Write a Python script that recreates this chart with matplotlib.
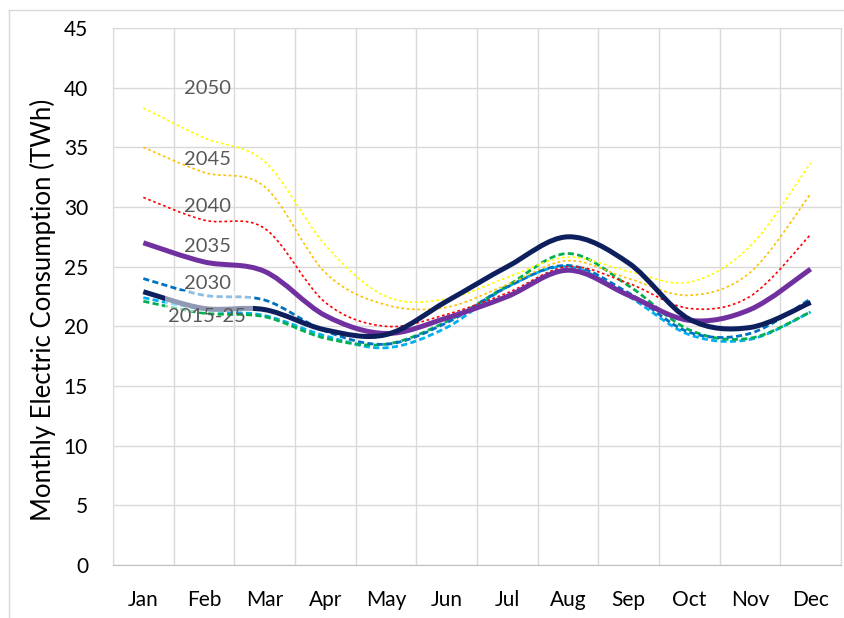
import numpy as np
import matplotlib.pyplot as plt
from matplotlib.path import Path
from matplotlib.patches import PathPatch, Rectangle
from matplotlib.lines import Line2D

plt.rcParams['font.family'] = ['Lato', 'DejaVu Sans']

months = ['Jan', 'Feb', 'Mar', 'Apr', 'May', 'Jun',
          'Jul', 'Aug', 'Sep', 'Oct', 'Nov', 'Dec']

# monthly consumption (TWh)
y2015 = [22.4, 21.4, 20.9, 19.2, 18.2, 19.9, 23.3, 25.0, 22.5, 19.3, 18.9, 21.2]
y2025 = [22.1, 21.1, 20.8, 19.0, 18.5, 20.4, 23.4, 26.1, 23.4, 19.7, 19.0, 21.2]
y2030 = [24.0, 22.6, 22.2, 19.6, 18.5, 20.3, 23.3, 25.1, 22.8, 19.5, 19.4, 22.3]
y2040 = [30.8, 28.9, 28.2, 22.0, 20.0, 21.0, 22.8, 25.0, 23.6, 21.5, 22.5, 27.7]
y2045 = [35.0, 32.9, 31.7, 24.5, 21.8, 21.6, 23.5, 25.5, 24.0, 22.6, 24.5, 31.1]
y2050 = [38.3, 35.8, 33.8, 26.8, 22.5, 22.3, 24.1, 25.8, 24.6, 23.7, 26.7, 33.7]
y2035 = [27.0, 25.4, 24.6, 20.9, 19.4, 20.7, 22.5, 24.7, 22.6, 20.5, 21.4, 24.8]
hist = [22.9, 21.5, 21.4, 19.7, 19.3, 22.1, 25.0, 27.5, 25.3, 20.6, 19.9, 22.0]

labels = ['2050', '2045', '2040', '2035', '2030', '2015-25']
label_y = [39.9, 34.0, 30.0, 26.7, 23.6, 20.8]


def smooth_path(ys):
    # Excel-like smoothed line: Catmull-Rom segments as cubic Beziers
    xs = np.arange(len(ys), dtype=float)
    pts = np.column_stack([xs, np.asarray(ys, dtype=float)])
    verts = [pts[0]]
    codes = [Path.MOVETO]
    n = len(pts)
    for i in range(n - 1):
        p0 = pts[max(i - 1, 0)]
        p1 = pts[i]
        p2 = pts[i + 1]
        p3 = pts[min(i + 2, n - 1)]
        c1 = p1 + (p2 - p0) / 6.0
        c2 = p2 - (p3 - p1) / 6.0
        verts += [c1, c2, p2]
        codes += [Path.CURVE4] * 3
    return Path(verts, codes)


fig = plt.figure(figsize=(8.44, 6.18), dpi=100)
ax = fig.add_axes([0.1339, 0.0858, 0.8625, 0.8689])

dash = (0, (2.2, 1.2))
dot = (0, (1.6, 1.6))
series = [
    (y2015, '#00b0f0', 2.0, dash, 2),
    (y2025, '#00b050', 2.0, dash, 3),
    (y2030, '#0070c0', 2.0, dash, 4),
    (y2040, '#ff0000', 1.2, dot, 5),
    (y2045, '#ffc000', 1.2, dot, 5),
    (y2050, '#ffff00', 1.2, dot, 5),
    (y2035, '#7030a0', 3.6, '-', 6),
    (hist, '#0d1f5c', 3.6, '-', 7),
]
for ys, col, lw, ls, z in series:
    patch = PathPatch(smooth_path(ys), facecolor='none', edgecolor=col,
                      lw=lw, linestyle=ls, zorder=z, capstyle='butt')
    ax.add_patch(patch)

# faded band behind the 2030 label
ax.add_patch(Rectangle((0.35, 21.2), 1.45, 1.8, facecolor='white',
                       alpha=0.55, edgecolor='none', zorder=8))

for lab, ly in zip(labels, label_y):
    ax.text(1.05, ly, lab, ha='center', va='center', fontsize=14.5,
            color='#595959', zorder=9)

ax.set_xlim(-0.5, 11.5)
ax.set_ylim(0, 45)
ax.set_xticks(range(12))
ax.set_xticklabels(months)
ax.set_xticks(np.arange(-0.5, 12, 1), minor=True)
ax.set_yticks(range(0, 50, 5))
ax.grid(which='minor', axis='x', color='#d9d9d9', lw=1)
ax.grid(which='major', axis='y', color='#d9d9d9', lw=1)
ax.set_axisbelow(True)
ax.tick_params(which='both', length=0)
ax.tick_params(axis='y', labelsize=15, pad=18)
ax.tick_params(axis='x', labelsize=15, pad=18)
for s in ['top', 'right', 'left']:
    ax.spines[s].set_color('#d9d9d9')
ax.spines['bottom'].set_color('#bfbfbf')

ax.set_ylabel('Monthly Electric Consumption (TWh)', fontsize=18.5)
ax.yaxis.set_label_coords(-0.078, 0.475)

# light frame of the chart area
fig.add_artist(Line2D([9 / 844, 9 / 844], [0, 1 - 10 / 618], color='#d9d9d9', lw=1))
fig.add_artist(Line2D([9 / 844, 1], [1 - 10 / 618, 1 - 10 / 618], color='#d9d9d9', lw=1))

fig.savefig('out.png', dpi=100)
